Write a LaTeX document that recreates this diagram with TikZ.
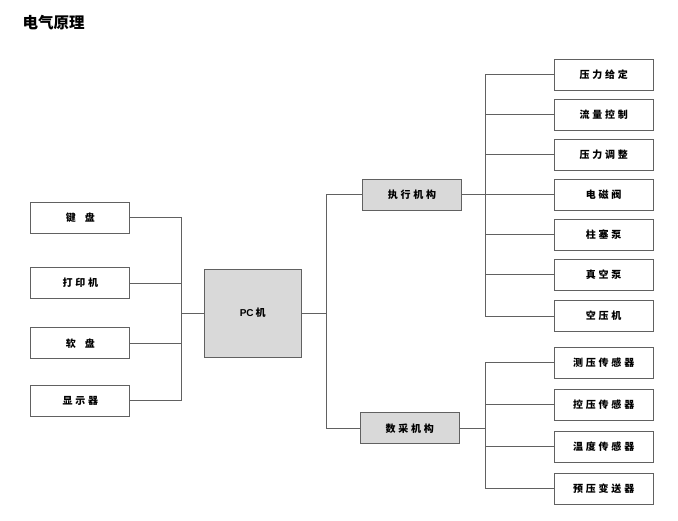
\documentclass[tikz,border=0pt]{standalone}
\usepackage{fontspec}
\setmainfont{Liberation Sans}
\newfontfamily\cjk[LetterSpace=28]{Noto Sans CJK SC}
\newfontfamily\cjktitle{Noto Sans CJK SC}
\begin{document}
\begin{tikzpicture}[x=1pt,y=-1pt,
  line/.style={draw=black!62,line width=0.9pt},
  box/.style={draw=black!62,line width=0.9pt,fill=white,minimum width=99pt,minimum height=31pt,inner sep=0pt,font=\cjk\bfseries\fontsize{10}{12}\selectfont},
  gbox/.style={box,fill=black!15}]
\useasboundingbox (0,0) rectangle (678,521);
\node[anchor=west,font=\cjktitle\bfseries\fontsize{15.5}{17}\selectfont,inner sep=0pt] (title) at (22.5,23) {电气原理};
% left
\node[box] (kb) at (80.3,217.5) {键\hspace{9pt}盘};
\node[box] (pr) at (80.3,283.2) {打印机};
\node[box] (fd) at (80.3,343.3) {软\hspace{9pt}盘};
\node[box] (dp) at (80.3,400.8) {显示器};
\node[gbox,minimum width=97pt,minimum height=88pt] (pc) at (252.7,313) {{\rmfamily\bfseries\fontsize{10}{12}\selectfont PC}\hspace{2pt}{\cjktitle\bfseries\fontsize{10}{12}\selectfont 机}};
\coordinate (bl) at (181,313);
\coordinate (br) at (326,313);
% middle
\node[gbox] (exe) at (412,194.8) {执行机构};
\node[gbox] (dat) at (409.7,428.4) {数采机构};
\coordinate (be) at (485,194.8);
\coordinate (bd) at (485,428.4);
% right exe
\node[box] (r1) at (603.7,74.5) {压力给定};
\node[box] (r2) at (603.7,114.7) {流量控制};
\node[box] (r3) at (603.7,154.5) {压力调整};
\node[box] (r4) at (603.7,194.8) {电磁阀};
\node[box] (r5) at (603.7,234.5) {柱塞泵};
\node[box] (r6) at (603.7,274.8) {真空泵};
\node[box] (r7) at (603.7,316) {空压机};
% right data
\node[box] (s1) at (603.7,362.8) {测压传感器};
\node[box] (s2) at (603.7,404.8) {控压传感器};
\node[box] (s3) at (603.7,446.8) {温度传感器};
\node[box] (s4) at (603.7,488.8) {预压变送器};
% connectors
\foreach \n in {kb,pr,fd,dp} \draw[line] (\n.east) -| (bl);
\draw[line] (bl) -- (pc.west);
\draw[line] (pc.east) -- (br);
\draw[line] (br) |- (exe.west);
\draw[line] (br) |- (dat.west);
\draw[line] (exe.east) -- (be);
\foreach \n in {r1,r2,r3,r4,r5,r6,r7} \draw[line] (be) |- (\n.west);
\draw[line] (dat.east) -- (bd);
\foreach \n in {s1,s2,s3,s4} \draw[line] (bd) |- (\n.west);
\end{tikzpicture}
\end{document}
